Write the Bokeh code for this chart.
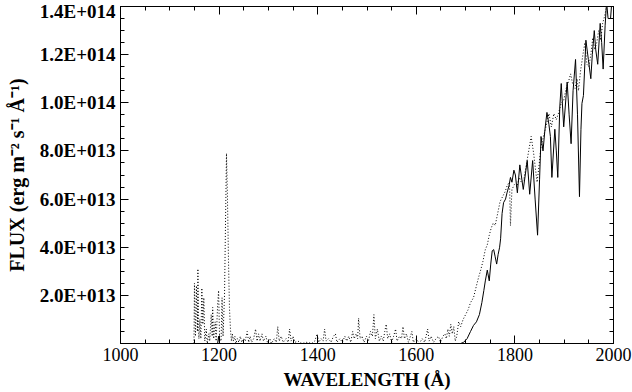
from bokeh.plotting import figure
from bokeh.models import LinearAxis, FixedTicker, CustomJSTickFormatter, Range1d
from bokeh.embed import file_html
from bokeh.resources import INLINE

# ---- data (flux in units of 1e13 erg m^-2 s^-1 A^-1) ----
solid_wave = [1150, 1197, 1199, 1201, 1690, 1696, 1703, 1710, 1716, 1722, 1728, 1733,
              1737, 1740, 1744, 1748, 1751, 1754, 1757, 1760, 1763, 1766, 1769, 1771,
              1774, 1777, 1781, 1784, 1788, 1791, 1794, 1798, 1801, 1805, 1810, 1817,
              1825, 1830, 1836, 1841, 1846, 1850, 1853, 1857, 1861, 1865, 1869, 1872,
              1875, 1881, 1884, 1887, 1891, 1894, 1899, 1906, 1910, 1914, 1918, 1923,
              1927, 1931, 1934, 1936, 1939, 1944, 1949, 1954, 1957, 1961, 1964, 1968,
              1973, 1976, 1979, 1983, 1986, 1989, 1994, 1997, 2000]
solid_flux = [0.0, 0.0, 0.3, 0.0, 0.0, 0.05, 0.2, 0.5, 0.75, 0.9, 1.2, 1.7,
              2.2, 2.6, 3.05, 2.6, 3.3, 3.85, 3.9, 3.6, 3.3, 3.7, 4.0, 4.35,
              5.4, 5.85, 6.0, 6.26, 6.55, 6.9, 6.7, 7.2, 7.0, 6.26, 7.42, 6.4,
              7.6, 6.2, 7.6, 6.0, 4.5, 6.8, 8.6, 8.0, 8.9, 9.6, 9.1, 8.6,
              6.9, 8.9, 8.0, 6.9, 9.8, 10.8, 9.0, 10.86, 9.5, 8.3, 10.5, 11.8,
              9.5, 6.1, 8.9, 9.97, 10.3, 12.6, 11.8, 11.0, 12.0, 13.0, 12.2, 11.6,
              13.3, 12.5, 11.4, 13.2, 14.2, 13.5, 13.5, 14.3, 14.5]

dotted_wave = [1149, 1150, 1152, 1154, 1156, 1157, 1159, 1161, 1163, 1165, 1167, 1169,
               1171, 1174, 1176, 1179, 1181, 1184, 1186, 1187, 1189, 1192, 1194, 1197,
               1199, 1201, 1204, 1206, 1208, 1211, 1213, 1215, 1217, 1219, 1221, 1223,
               1225, 1227, 1229, 1232, 1234, 1237, 1240, 1243, 1246, 1250, 1253, 1257,
               1260, 1263, 1266, 1270, 1274, 1277, 1280, 1283, 1287, 1290, 1295, 1298,
               1303, 1306, 1312, 1316, 1319, 1322, 1326, 1330, 1336, 1340, 1343, 1346,
               1350, 1354, 1360, 1368, 1378, 1388, 1394, 1399, 1402, 1407, 1411, 1414,
               1417, 1422, 1427, 1432, 1436, 1439, 1445, 1450, 1455, 1459, 1463, 1467,
               1471, 1474, 1478, 1481, 1483, 1486, 1490, 1494, 1499, 1503, 1507, 1511,
               1514, 1517, 1521, 1525, 1529, 1533, 1536, 1539, 1542, 1546, 1550, 1554,
               1558, 1561, 1566, 1570, 1573, 1576, 1580, 1584, 1588, 1591, 1594, 1600,
               1606, 1612, 1617, 1623, 1626, 1630, 1635, 1640, 1645, 1649, 1654, 1658,
               1661, 1664, 1667, 1670, 1673, 1676, 1679, 1682, 1686, 1690, 1695, 1700,
               1705, 1710, 1716, 1722, 1727, 1730, 1735, 1740, 1744, 1748, 1752, 1756,
               1760, 1765, 1770, 1775, 1780, 1785, 1789, 1791, 1794, 1799, 1804, 1809,
               1813, 1818, 1823, 1828, 1833, 1838, 1842, 1845, 1849, 1853, 1858, 1863,
               1869, 1874, 1879, 1884, 1889, 1894, 1899, 1904, 1909, 1913, 1917, 1922,
               1926, 1929, 1933, 1938, 1942, 1946, 1950, 1954, 1958, 1962, 1966, 1970,
               1974, 1978, 1982, 1986, 1990, 1995, 2000]
dotted_flux = [0.0, 2.5, 0.3, 2.4, 0.5, 3.1, 0.2, 1.0, 0.2, 2.3, 0.8, 1.9,
               0.1, 0.6, 0.0, 0.4, 0.1, 1.2, 0.3, 1.5, 0.2, 0.9, 0.1, 1.6,
               2.2, 0.2, 0.1, 1.9, 0.3, 2.0, 5.0, 7.9, 6.0, 3.5, 1.5, 0.6,
               0.1, 0.4, 0.1, 0.3, 0.0, 0.2, 0.05, 0.3, 0.05, 0.2, 0.1, 0.5,
               0.05, 0.3, 0.05, 0.2, 0.6, 0.1, 0.4, 0.1, 0.4, 0.1, 0.3, 0.05,
               0.2, 0.0, 0.2, 0.05, 0.7, 0.1, 0.3, 0.05, 0.2, 0.05, 0.6, 0.1,
               0.3, 0.05, 0.1, 0.0, 0.05, 0.0, 0.1, 0.4, 0.05, 0.2, 0.1, 0.6,
               0.1, 0.2, 0.05, 0.3, 0.4, 0.05, 0.2, 0.05, 0.3, 0.1, 0.3, 0.05,
               0.5, 0.2, 0.4, 0.2, 1.05, 0.2, 0.3, 0.05, 0.3, 0.1, 0.5, 0.3,
               1.2, 0.2, 0.6, 0.1, 0.3, 0.1, 0.5, 0.8, 0.2, 0.4, 0.05, 0.3,
               0.6, 0.1, 0.3, 0.2, 0.7, 0.2, 0.4, 0.05, 0.3, 0.5, 0.05, 0.2,
               0.0, 0.2, 0.05, 0.6, 0.1, 0.3, 0.05, 0.2, 0.3, 0.05, 0.3, 0.4,
               0.2, 0.6, 0.3, 0.8, 0.4, 0.7, 0.1, 0.3, 0.9, 0.7, 1.0, 1.2,
               1.4, 1.7, 1.9, 2.4, 2.8, 3.0, 3.4, 3.9, 4.1, 4.5, 4.8, 5.0,
               4.9, 5.4, 5.9, 6.1, 6.3, 6.6, 6.7, 4.9, 6.4, 6.6, 6.5, 6.9,
               6.7, 6.8, 7.4, 8.0, 8.6, 7.9, 7.2, 6.7, 7.4, 8.2, 8.6, 9.0,
               9.55, 9.0, 9.55, 9.3, 9.6, 10.0, 10.1, 10.6, 10.9, 11.2, 10.8, 10.6,
               11.0, 10.5, 11.3, 12.0, 12.5, 11.6, 11.5, 12.0, 12.7, 12.2, 12.5, 13.0,
               12.6, 13.3, 13.6, 14.0, 14.3, 14.6, 14.8]

flux_scale = 1e13

x_major_ticks = [1000, 1200, 1400, 1600, 1800, 2000]
x_minor_ticks = [1050, 1100, 1150, 1250, 1300, 1350, 1450, 1500, 1550,
                 1650, 1700, 1750, 1850, 1900, 1950]
y_major_ticks = [0, 2e13, 4e13, 6e13, 8e13, 1e14, 1.2e14, 1.4e14]
y_tick_labels = ["", "2.0E+013", "4.0E+013", "6.0E+013", "8.0E+013",
                 "1.0E+014", "1.2E+014", "1.4E+014"]
y_minor_ticks = [5e12 * k for k in range(1, 28) if k % 4 != 0]

x_title = "WAVELENGTH (Å)"
y_title = "FLUX (erg m⁻² s⁻¹ Å⁻¹)"

FONT = "Liberation Serif"

p = figure(width=632, height=392, output_backend="svg", toolbar_location=None,
           x_range=Range1d(1000, 2000), y_range=Range1d(0, 1.4e14),
           min_border_left=120, min_border_right=19, min_border_top=6,
           min_border_bottom=10)
p.background_fill_color = "white"
p.border_fill_color = "white"
p.outline_line_color = "black"
p.outline_line_width = 1
p.xgrid.visible = False
p.ygrid.visible = False

p.line([w for w in solid_wave], [f * flux_scale for f in solid_flux],
       line_color="black", line_width=1)
p.line([w for w in dotted_wave], [f * flux_scale for f in dotted_flux],
       line_color="black", line_width=1, line_dash="1 2")

def style(ax):
    ax.axis_line_color = "black"
    ax.axis_line_width = 1
    ax.major_tick_in = 8
    ax.major_tick_out = 0
    ax.minor_tick_in = 4
    ax.minor_tick_out = 0
    ax.major_tick_line_color = "black"
    ax.minor_tick_line_color = "black"

xa = p.xaxis[0]
xa.ticker = FixedTicker(ticks=x_major_ticks, minor_ticks=x_minor_ticks)
style(xa)
xa.major_label_text_font = FONT
xa.major_label_text_font_size = "18px"
xa.major_label_text_font_style = "normal"
xa.major_label_text_color = "black"
xa.major_label_standoff = 4
xa.axis_label = x_title
xa.axis_label_text_font = FONT
xa.axis_label_text_font_size = "19px"
xa.axis_label_text_font_style = "bold"
xa.axis_label_text_color = "black"
xa.axis_label_standoff = 5

ya = p.yaxis[0]
ya.ticker = FixedTicker(ticks=y_major_ticks, minor_ticks=y_minor_ticks)
ya.major_label_overrides = {t: l for t, l in zip(y_major_ticks, y_tick_labels)}
style(ya)
ya.major_label_text_font = FONT
ya.major_label_text_font_size = "19px"
ya.major_label_text_font_style = "bold"
ya.major_label_text_color = "black"
ya.major_label_standoff = 5
ya.axis_label = y_title
ya.axis_label_text_font = FONT
ya.axis_label_text_font_size = "20px"
ya.axis_label_text_font_style = "bold"
ya.axis_label_text_color = "black"
ya.axis_label_standoff = 9

empty = CustomJSTickFormatter(code="return '';")
top = LinearAxis(ticker=FixedTicker(ticks=x_major_ticks, minor_ticks=x_minor_ticks),
                 formatter=empty, major_label_standoff=0,
                 major_label_text_font_size="1px")
style(top)
p.add_layout(top, "above")
right = LinearAxis(ticker=FixedTicker(ticks=y_major_ticks, minor_ticks=y_minor_ticks),
                   formatter=empty, major_label_standoff=0,
                   major_label_text_font_size="1px")
style(right)
p.add_layout(right, "right")

open("out.html", "w").write(file_html(p, INLINE))
